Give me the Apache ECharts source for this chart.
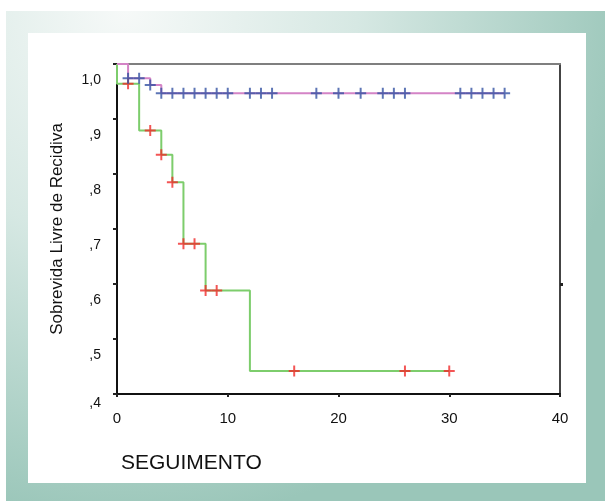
<!DOCTYPE html>
<html>
<head>
<meta charset="utf-8">
<script src="https://cdn.jsdelivr.net/npm/echarts@6/dist/echarts.min.js"></script>
<style>html,body{margin:0;padding:0;background:#fff}#c{width:605px;height:502px}</style>
</head>
<body>
<div id="c"></div>
<script>
// Group 1 (pink line, blue censor marks)
var pinkTimes = [0, 1, 3, 4, 35];
var pinkSurv  = [1.0, 0.974, 0.962, 0.947, 0.947];
var blueCensorTimes = [1, 2, 3, 4, 5, 6, 7, 8, 9, 10, 12, 13, 14, 18, 20, 22, 24, 25, 26, 31, 32, 33, 34, 35];
var blueCensorSurv  = [0.974, 0.974, 0.962, 0.947, 0.947, 0.947, 0.947, 0.947, 0.947, 0.947, 0.947, 0.947, 0.947, 0.947, 0.947, 0.947, 0.947, 0.947, 0.947, 0.947, 0.947, 0.947, 0.947, 0.947];
// Group 2 (green line, red censor marks)
var greenTimes = [0, 0, 2, 4, 5, 6, 8, 12, 30];
var greenSurv  = [1.0, 0.964, 0.879, 0.835, 0.785, 0.673, 0.588, 0.442, 0.442];
var redCensorTimes = [1, 3, 4, 5, 6, 7, 8, 9, 16, 26, 30];
var redCensorSurv  = [0.964, 0.879, 0.835, 0.785, 0.673, 0.673, 0.588, 0.588, 0.442, 0.442, 0.442];
// Axis tick labels
var yTickLabels = [',4', ',5', ',6', ',7', ',8', ',9', '1,0'];
var xTickLabels = ['0', '10', '20', '30', '40'];
var xTitle = 'SEGUIMENTO';
var yTitle = 'Sobrevida Livre de Recidiva';

function pairs(xs, ys) { return xs.map(function (x, i) { return [x, ys[i]]; }); }
var cross = 'path://M0,4.1L10,4.1L10,5.9L0,5.9Z M4.1,0L5.9,0L5.9,10L4.1,10Z';
var FONT = '"Liberation Sans", Arial, sans-serif';

var chart = echarts.init(document.getElementById('c'));
chart.setOption({
  animation: false,
  backgroundColor: '#ffffff',
  graphic: [
    { type: 'rect', z: -10, silent: true, shape: { x: 6, y: 11, width: 599, height: 490 },
      style: { fill: { type: 'radial', x: 0.2, y: 0.0, r: 1.05, colorStops: [
        { offset: 0, color: '#f6f9f8' }, { offset: 0.45, color: '#d6e8e3' }, { offset: 1, color: '#9ac6b9' } ], global: false } } },
    { type: 'rect', z: -9, silent: true, shape: { x: 28, y: 33, width: 558, height: 450 }, style: { fill: '#ffffff' } }
  ],
  title: {
    text: xTitle, left: 116, top: 448,
    textStyle: { fontFamily: FONT, fontSize: 21, fontWeight: 'normal', color: '#111' }
  },
  grid: { left: 117, right: 45, top: 64, bottom: 108, containLabel: false },
  xAxis: [{
    type: 'value', min: 0, max: 40, interval: 10,
    axisLine: { show: true, onZero: false, lineStyle: { color: '#111', width: 2 } },
    axisTick: { show: true, length: 3, lineStyle: { color: '#222', width: 2 } },
    axisLabel: { margin: 17, fontFamily: FONT, fontSize: 15, color: '#111',
      formatter: function (v) { return xTickLabels[Math.round(v / 10)]; } },
    splitLine: { show: false }
  }, {
    type: 'value', position: 'top', min: 0, max: 40,
    axisLine: { show: true, onZero: false, lineStyle: { color: '#7f7f7f', width: 2 } },
    axisTick: { show: false }, axisLabel: { show: false }, splitLine: { show: false }
  }],
  yAxis: [{
    type: 'value', min: 0.4, max: 1.0, interval: 0.1,
    name: yTitle, nameLocation: 'middle', nameGap: 51, nameRotate: 90,
    nameTextStyle: { fontFamily: FONT, fontSize: 17, color: '#111' },
    axisLine: { show: true, onZero: false, lineStyle: { color: '#111', width: 2 } },
    axisTick: { show: true, length: 4, lineStyle: { color: '#222', width: 2 } },
    axisLabel: { margin: 16, fontFamily: FONT, fontSize: 14, color: '#111',
      formatter: function (v) {
        var i = Math.round(v * 10) - 4;
        return (i === 0 ? '{b|' : '{a|') + yTickLabels[i] + '}';
      },
      rich: {
        a: { fontFamily: FONT, fontSize: 14, color: '#111', padding: [32, 0, 0, 0] },
        b: { fontFamily: FONT, fontSize: 14, color: '#111', padding: [18, 0, 0, 0] }
      }
    },
    splitLine: { show: false }
  }, {
    type: 'value', position: 'right', min: 0.4, max: 1.0,
    axisLine: { show: true, onZero: false, lineStyle: { color: '#444', width: 2 } },
    axisTick: { show: true, customValues: [0.6], length: 3, lineStyle: { color: '#222', width: 3 } },
    axisLabel: { show: false }, splitLine: { show: false }
  }],
  series: [
    { type: 'line', step: 'end', data: pairs(greenTimes, greenSurv), showSymbol: false, symbol: 'none',
      clip: false, lineStyle: { color: '#7dcd6c', width: 2 }, z: 2 },
    { type: 'line', step: 'end', data: pairs(pinkTimes, pinkSurv), showSymbol: false, symbol: 'none',
      clip: false, lineStyle: { color: '#d484c6', width: 2 }, z: 3 },
    { type: 'scatter', data: pairs(redCensorTimes, redCensorSurv), symbol: cross, symbolSize: 11,
      itemStyle: { color: '#f02a2a' }, z: 4 },
    { type: 'scatter', data: pairs(blueCensorTimes, blueCensorSurv), symbol: cross, symbolSize: 11,
      itemStyle: { color: '#3552a3' }, z: 5 }
  ]
});
</script>
</body>
</html>
